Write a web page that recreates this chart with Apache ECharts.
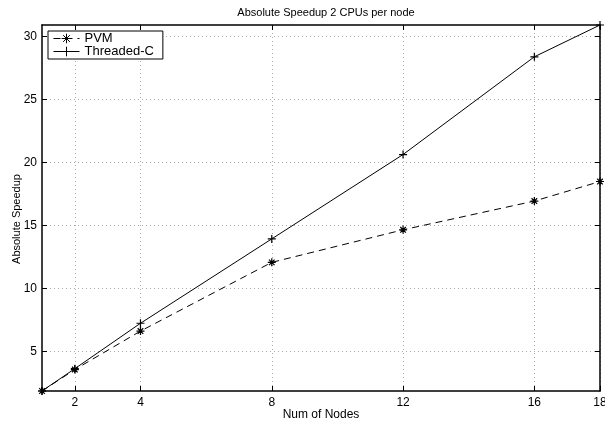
<!DOCTYPE html>
<html>
<head>
<meta charset="utf-8">
<script src="https://cdn.jsdelivr.net/npm/echarts@6/dist/echarts.min.js"></script>
<style>
  html, body { margin: 0; padding: 0; background: #fff; }
  #chart { width: 605px; height: 423px; }
</style>
</head>
<body>
<div id="chart"></div>
<script>
// data
const nodes = [1, 2, 4, 8, 12, 16, 18];
const pvm = [1.88, 3.58, 6.63, 12.08, 14.66, 16.94, 18.49];
const threaded = [1.88, 3.65, 7.25, 13.94, 20.63, 28.38, 30.9];
const xTicks = [2, 4, 8, 12, 16, 18];
const yTicks = [5, 10, 15, 20, 25, 30];
const yMin = 1.88;
const yMax = 30.9;

const font = "Liberation Sans";
const plus = "path://M0,5L10,5M5,0L5,10";
const star = "path://M0,5L10,5M5,0L5,10M1.5,1.5L8.5,8.5M8.5,1.5L1.5,8.5";

function pairs(xs, ys) {
  return xs.map((x, i) => [x, ys[i]]);
}

const chart = echarts.init(document.getElementById("chart"));

const tickStyle = { show: true, inside: true, length: 5, lineStyle: { color: "#000", width: 1 } };
const gridLine = { show: true, lineStyle: { color: "#aaa", width: 1, type: [1, 3] } };
const axisLine = { show: true, lineStyle: { color: "#000", width: 1.5 } };

let option = {
  backgroundColor: "#fff",
  animation: false,
  textStyle: { fontFamily: font },
  title: {
    text: "Absolute Speedup 2 CPUs per node",
    left: 321,
    textAlign: "center",
    top: 2,
    textStyle: { fontFamily: font, fontSize: 11, fontWeight: "normal", color: "#000" }
  },
  grid: { left: 42, right: 5, top: 25, bottom: 32, outerBoundsMode: "none", containLabel: false },
  legend: {
    orient: "vertical",
    left: 48,
    top: 31,
    padding: [1, 9, 1, 5],
    itemGap: 0,
    itemWidth: 26,
    itemHeight: 12,
    borderColor: "#000",
    borderWidth: 1,
    borderRadius: 0,
    backgroundColor: "#fff",
    lineStyle: { width: 1 },
    itemStyle: { color: "transparent", borderColor: "#000", borderWidth: 1 },
    textStyle: { fontFamily: font, fontSize: 13, color: "#000" },
    data: ["PVM", "Threaded-C"]
  },
  xAxis: [
    {
      type: "value",
      min: 1,
      max: 18,
      name: "Num of Nodes",
      nameLocation: "middle",
      nameGap: 18,
      nameMoveOverlap: false,
      nameTextStyle: { fontFamily: font, fontSize: 12, color: "#000" },
      axisLine: axisLine,
      axisTick: Object.assign({ customValues: xTicks }, tickStyle),
      axisLabel: { customValues: xTicks, fontFamily: font, fontSize: 12, color: "#000", margin: 6 },
      splitLine: gridLine
    },
    {
      type: "value",
      position: "top",
      min: 1,
      max: 18,
      axisLine: axisLine,
      axisTick: Object.assign({ customValues: xTicks }, tickStyle),
      axisLabel: { show: false },
      splitLine: { show: false }
    }
  ],
  yAxis: [
    {
      type: "value",
      min: yMin,
      max: yMax,
      name: "Absolute Speedup",
      nameLocation: "middle",
      nameGap: 20,
      nameMoveOverlap: false,
      nameTextStyle: { fontFamily: font, fontSize: 11, color: "#000", padding: [0, 22, 0, 0] },
      axisLine: axisLine,
      axisTick: Object.assign({ customValues: yTicks }, tickStyle),
      axisLabel: { customValues: yTicks, fontFamily: font, fontSize: 12, color: "#000", margin: 5 },
      splitLine: gridLine
    },
    {
      type: "value",
      position: "right",
      min: yMin,
      max: yMax,
      axisLine: axisLine,
      axisTick: Object.assign({ customValues: yTicks }, tickStyle),
      axisLabel: { show: false },
      splitLine: { show: false }
    }
  ],
  series: [
    {
      name: "PVM",
      type: "line",
      data: pairs(nodes, pvm),
      symbol: star,
      symbolSize: 8,
      showAllSymbol: true,
      lineStyle: { color: "#000", width: 1, type: [7, 5] },
      itemStyle: { color: "none", borderColor: "#000", borderWidth: 1.2 },
      z: 3
    },
    {
      name: "Threaded-C",
      type: "line",
      data: pairs(nodes, threaded),
      symbol: plus,
      symbolSize: 8,
      showAllSymbol: true,
      lineStyle: { color: "#000", width: 1 },
      itemStyle: { color: "none", borderColor: "#000", borderWidth: 1.2 },
      z: 3
    }
  ]
};

chart.setOption(option);
</script>
</body>
</html>
